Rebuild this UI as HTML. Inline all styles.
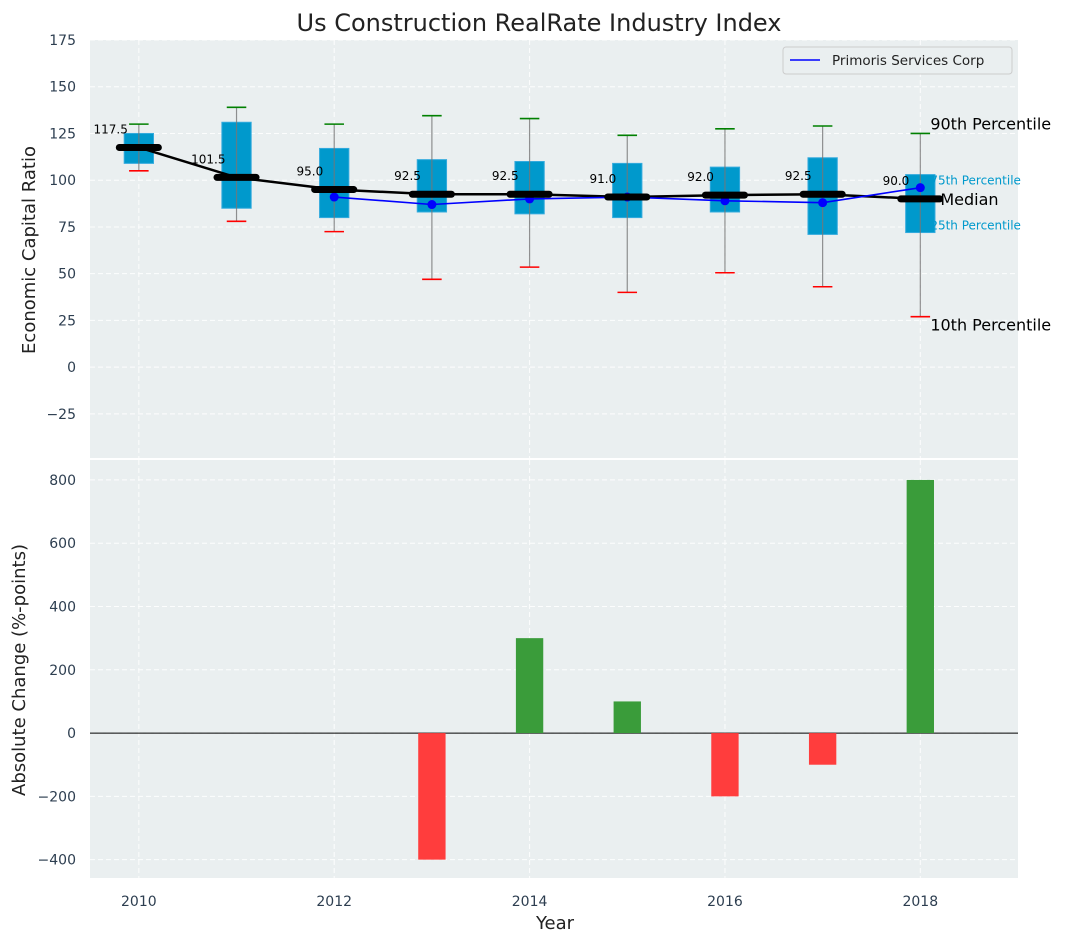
<!DOCTYPE html>
<html><head><meta charset="utf-8"><style>
body{margin:0;background:#fff;}
svg{display:block;font-family:"DejaVu Sans","Liberation Sans",sans-serif;}
</style></head><body>
<svg id="chart" width="1067" height="942" viewBox="0 0 1067 942"></svg>
<script>
const years=[2010,2011,2012,2013,2014,2015,2016,2017,2018];
const p10=[105,78,72.5,47,53.5,40,50.5,43,27];
const p25=[109,85,80,83,82,80,83,71,72];
const med=[117.5,101.5,95,92.5,92.5,91,92,92.5,90];
const p75=[125,131,117,111,110,109,107,112,103];
const p90=[130,139,130,134.5,133,124,127.5,129,125];
const compYears=[2012,2013,2014,2015,2016,2017,2018];
const compVals=[91,87,90,91,89,88,96];
const changes=[0,0,0,-400,300,100,-200,-100,800];
const topTicks=[-25,0,25,50,75,100,125,150,175];
const botTicks=[-400,-200,0,200,400,600,800];
const xTicks=[2010,2012,2014,2016,2018];

const NS="http://www.w3.org/2000/svg";
const svg=document.getElementById('chart');
function el(tag,attrs,parent){const e=document.createElementNS(NS,tag);for(const k in attrs)e.setAttribute(k,attrs[k]);(parent||svg).appendChild(e);return e;}
const L=90,R=1018;
function xs(v){return L+(v-2009.5)/9.5*(R-L);}
const T0=40,T1=458,tmin=-48.6,tmax=175;
const yT=v=>T1-(v-tmin)/(tmax-tmin)*(T1-T0);
const B0=460,B1=878,bmin=-458,bmax=863;
const yB=v=>B1-(v-bmin)/(bmax-bmin)*(B1-B0);
const tick='#2d3e50';

let r=el('rect',{x:L,y:T0,width:R-L,height:T1-T0,fill:'#eaeff0'});

r=el('rect',{x:L,y:B0,width:R-L,height:B1-B0,fill:'#eaeff0'});


const grid=el('g',{stroke:'#fff','stroke-dasharray':'5,3','stroke-width':1,opacity:0.9});

topTicks.forEach(t=>el('line',{x1:L,x2:R,y1:yT(t),y2:yT(t)},grid));
botTicks.forEach(t=>el('line',{x1:L,x2:R,y1:yB(t),y2:yB(t)},grid));
xTicks.forEach(t=>{el('line',{x1:xs(t),x2:xs(t),y1:T0,y2:T1},grid);el('line',{x1:xs(t),x2:xs(t),y1:B0,y2:B1},grid);});

topTicks.forEach(t=>{const e=el('text',{x:L-14,y:yT(t)+5,'text-anchor':'end','font-size':14,fill:tick});e.textContent=(t<0?'−':'')+Math.abs(t);
});
botTicks.forEach(t=>{const e=el('text',{x:L-14,y:yB(t)+5,'text-anchor':'end','font-size':14,fill:tick});e.textContent=(t<0?'−':'')+Math.abs(t);
});
xTicks.forEach(t=>{const e=el('text',{x:xs(t),y:906,'text-anchor':'middle','font-size':14,fill:tick});e.textContent=t;
});

years.forEach((yr,i)=>{
  const g=el('g',{});
  const cx=xs(yr),hw=0.15*(R-L)/9.5,cw=0.1*(R-L)/9.5;
  el('rect',{x:cx-hw,y:yT(p75[i]),width:2*hw,height:yT(p25[i])-yT(p75[i]),fill:'#0099cc',stroke:'#33aadd','stroke-width':1},g);
  el('line',{x1:cx,x2:cx,y1:yT(p10[i]),y2:yT(p90[i]),stroke:'#777','stroke-width':1.2,opacity:0.8},g);
  el('line',{x1:cx-cw,x2:cx+cw,y1:yT(p90[i]),y2:yT(p90[i]),stroke:'green','stroke-width':1.6},g);
  el('line',{x1:cx-cw,x2:cx+cw,y1:yT(p10[i]),y2:yT(p10[i]),stroke:'red','stroke-width':1.6},g);
});
let pts=years.map((y,i)=>xs(y)+','+yT(med[i])).join(' ');
r=el('polyline',{points:pts,fill:'none',stroke:'#000','stroke-width':2.5});

pts=compYears.map((y,i)=>xs(y)+','+yT(compVals[i])).join(' ');
r=el('polyline',{points:pts,fill:'none',stroke:'blue','stroke-width':1.6});

compYears.forEach((y,i)=>{const c=el('circle',{cx:xs(y),cy:yT(compVals[i]),r:4.5,fill:'blue'});
});
years.forEach((yr,i)=>{const cx=xs(yr),hw=0.2*(R-L)/9.5;
  const m=el('line',{x1:cx-hw,x2:cx+hw,y1:yT(med[i]),y2:yT(med[i]),stroke:'#000','stroke-width':7,'stroke-linecap':'round'});
  
  const t=el('text',{x:cx-11,y:yT(med[i])-14,'text-anchor':'end','font-size':12,fill:'#000'});t.textContent=med[i].toFixed(1);
  
});
const li=years.length-1,ax=xs(years[li])+10;
[['90th Percentile',ax,yT(p90[li])-4,16,'#000'],['10th Percentile',ax,yT(p10[li])+14,16,'#000'],['Median',ax+10,yT(med[li])+6,16,'#000'],
 ['75th Percentile',ax,yT(p75[li])+10,12,'#0099cc'],['25th Percentile',ax,yT(p25[li])-3,12,'#0099cc']].forEach(a=>{
  const t=el('text',{x:a[1],y:a[2],'font-size':a[3],fill:a[4]});t.textContent=a[0];
  });

el('line',{x1:L,x2:R,y1:yB(0),y2:yB(0),stroke:'#000','stroke-width':1});
years.forEach((yr,i)=>{if(changes[i]===0)return;const w=0.28*(R-L)/9.5;
  const y0=yB(Math.max(0,changes[i])),y1=yB(Math.min(0,changes[i]));
  const b=el('rect',{x:xs(yr)-w/2,y:y0,width:w,height:y1-y0,fill:changes[i]>0?'#3a9c3a':'#ff3d3d'});
  });

const lg=el('g',{});
el('rect',{x:783,y:47,width:229,height:27,rx:3,fill:'#eaeff0',stroke:'#ccc'},lg);
el('line',{x1:790,x2:820,y1:60,y2:60,stroke:'blue','stroke-width':1.6},lg);
let t=el('text',{x:832,y:65,'font-size':13.5,fill:'#222'},lg);t.textContent='Primoris Services Corp';

t=el('text',{x:539,y:31,'text-anchor':'middle','font-size':24,fill:'#222'});t.textContent='Us Construction RealRate Industry Index';

t=el('text',{x:555,y:929,'text-anchor':'middle','font-size':18,fill:'#222'});t.textContent='Year';

t=el('text',{x:0,y:0,'text-anchor':'middle','font-size':18,fill:'#222',transform:'translate(35,250) rotate(-90)'});t.textContent='Economic Capital Ratio';

t=el('text',{x:0,y:0,'text-anchor':'middle','font-size':18,fill:'#222',transform:'translate(25,670) rotate(-90)'});t.textContent='Absolute Change (%-points)';

</script>
</body></html>
